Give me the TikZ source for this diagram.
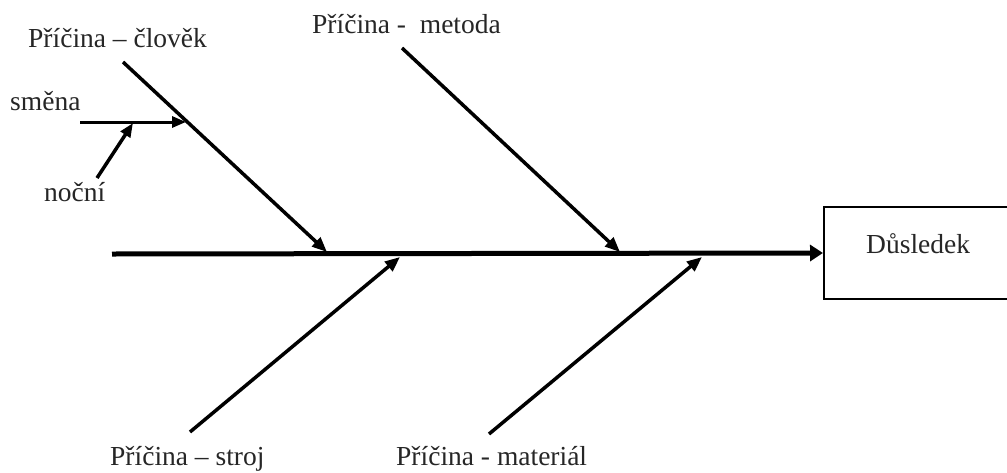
\documentclass[tikz,border=0pt]{standalone}
\usepackage{fontspec}
\setmainfont{Liberation Serif}
\usetikzlibrary{arrows.meta,positioning}

\begin{document}
\begin{tikzpicture}[
  x=1pt, y=-1pt,
  font=\fontsize{27.5}{32}\selectfont,
  effect/.style={draw, line width=2pt, minimum width=210pt,
                 minimum height=92pt, inner sep=0pt},
  spine/.style={-{Triangle[length=13pt, width=16pt]}, line width=5pt},
  bone/.style={-{Triangle[length=15pt, width=12pt]}, line width=3.5pt},
  subarr/.style={-{Triangle[length=14pt, width=11pt]}, line width=3pt},
  lbl/.style={anchor=base west, inner sep=0pt, text=black!85},
]
\useasboundingbox (0,0) rectangle (1007,472);
\clip (0,0) rectangle (1007,472);

% effect box and spine
\node[effect] (result) at (929,253) {};
\node[lbl] (rtext) at (866,253) {Důsledek};
\coordinate (tail) at (112,254);
\draw[spine] (tail) -- (result.west);

% cause bones
\coordinate (c1) at (123,62);   \coordinate (h1) at (327,252);
\coordinate (c2) at (402,48);   \coordinate (h2) at (620,252);
\coordinate (c3) at (190,432);  \coordinate (h3) at (400,257);
\coordinate (c4) at (489,434);  \coordinate (h4) at (702,257);
\draw[bone] (c1) -- (h1);
\draw[bone] (c2) -- (h2);
\draw[bone] (c3) -- (h3);
\draw[bone] (c4) -- (h4);

\node[lbl] (t1) at (28,47)   {Příčina – člověk};
\node[lbl] (t2) at (312,33)  {Příčina -\ \ metoda};
\node[lbl] (t3) at (110,465) {Příčina – stroj};
\node[lbl] (t4) at (396,465) {Příčina - materiál};

% sub-causes
\coordinate (s1) at (80,122);   \coordinate (k1) at (186,122);
\coordinate (s2) at (97,178);   \coordinate (k2) at (133,123);
\draw[subarr] (s1) -- (k1);
\draw[subarr, line width=3.5pt] (s2) -- (k2);
\node[lbl] (sm) at (10,110) {směna};
\node[lbl] (nc) at (44,201) {noční};
\end{tikzpicture}
\end{document}
